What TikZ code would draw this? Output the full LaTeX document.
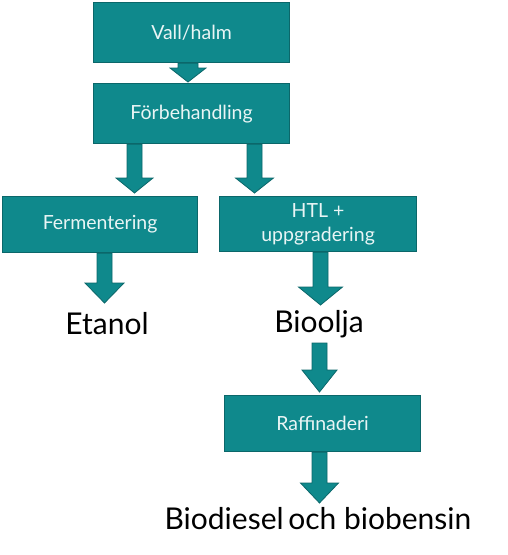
\documentclass[tikz,border=0pt]{standalone}
\usepackage{fontspec}
\setmainfont{Lato}
\usetikzlibrary{calc}
\definecolor{tealfill}{HTML}{0F898C}
\definecolor{tealline}{HTML}{0B676A}
\definecolor{boxtext}{HTML}{E9F5F5}
\newcommand\blkarr[5]{%
  \filldraw[arrowstyle] let \p1=(#1), \p2=(#2) in
    (\x1-#3,\y1) -- (\x1+#3,\y1) -- (\x1+#3,\y2+#5) -- (\x1+#4,\y2+#5)
    -- (\x1,\y2) -- (\x1-#4,\y2+#5) -- (\x1-#3,\y2+#5) -- cycle;}
\tikzset{
  procbox/.style={draw=tealline, line width=1.2pt, fill=tealfill, text=boxtext,
    font=\fontsize{19.5}{23.5}\selectfont, align=center, inner sep=0pt, anchor=north west},
  biglabel/.style={font=\fontsize{30}{34}\selectfont, text=black, inner sep=0pt},
  arrowstyle/.style={fill=tealfill, draw=tealline, line width=0.8pt}
}
\begin{document}
\begin{tikzpicture}[x=1pt,y=-1pt]
\useasboundingbox (0,0) rectangle (508,555);
\node[procbox, minimum width=196pt, minimum height=60pt] (vall) at (93,2) {Vall/halm};
\node[procbox, minimum width=196pt, minimum height=60pt] (forb) at (93,83) {Förbehandling};
\node[procbox, minimum width=195pt, minimum height=56pt] (ferm) at (2,196) {Fermentering};
\node[procbox, minimum width=197pt, minimum height=55pt] (htl) at (219,196) {HTL +\\uppgradering};
\node[procbox, minimum width=196pt, minimum height=56pt] (raff) at (224,395) {Raffinaderi};
\node[biglabel] (etanol) at (107,324) {Etanol};
\node[biglabel] (bioolja) at (319,324) {Bioolja};
\node[biglabel] (biodiesel) at (318,519) {Biodiesel\hspace{-3pt} och biobensin};
\coordinate (t1) at (188,82);
\coordinate (t2) at (134.5,193);
\coordinate (t3) at (254.5,193);
\coordinate (t4) at (104.5,303);
\coordinate (t5) at (320.5,305);
\coordinate (t6) at (319.5,392);
\coordinate (t7) at (319.5,503);
\blkarr{vall.south -| t1}{t1}{10pt}{18pt}{14pt}
\blkarr{forb.south -| t2}{t2}{7.5pt}{18.5pt}{15pt}
\blkarr{forb.south -| t3}{t3}{7.5pt}{19pt}{15pt}
\blkarr{ferm.south -| t4}{t4}{7.5pt}{19.5pt}{20pt}
\blkarr{htl.south -| t5}{t5}{7.5pt}{22pt}{18pt}
\coordinate (s6) at (319.5,343);
\blkarr{s6}{t6}{7.5pt}{17.5pt}{22pt}
\blkarr{raff.south -| t7}{t7}{7.5pt}{19pt}{20pt}
\end{tikzpicture}
\end{document}
